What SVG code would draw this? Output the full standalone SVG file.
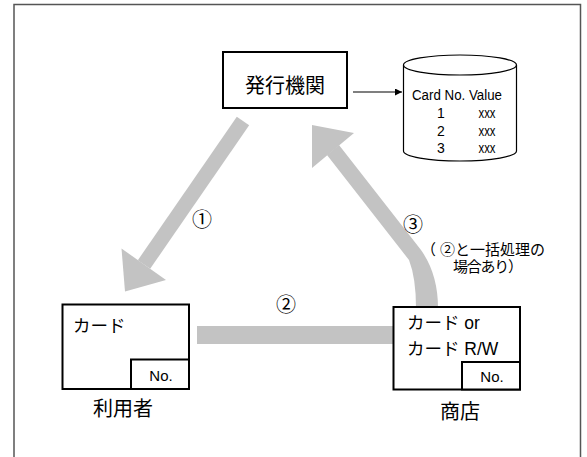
<svg xmlns="http://www.w3.org/2000/svg" width="587" height="457" viewBox="0 0 587 457">
<defs>
<style>
text{font-family:"Liberation Sans","Noto Sans CJK JP",sans-serif;fill:#000}
.box{fill:#fff;stroke:#000;stroke-width:2}
.gray{fill:#c3c3c3;stroke:none}
.big{font-size:20px}
.mid{font-size:17.5px}
.sm{font-size:15px}
.no{font-size:15px}
.cyl{font-size:14px}
.num{font-size:20px;font-family:"Noto Sans CJK JP","Liberation Sans",sans-serif}
</style>
<marker id="ah" viewBox="0 0 10 10" refX="10" refY="5" markerWidth="9" markerHeight="7" markerUnits="userSpaceOnUse" orient="auto">
<path d="M0 0 L10 5 L0 10 Z" fill="#000"/>
</marker>
</defs>
<rect width="587" height="457" fill="#fff"/>
<path d="M14 457 V4.5 H580.5 V457" fill="none" stroke="#555" stroke-width="1.5"/>

<g id="connectors">
<g id="arrow1">
<line x1="243" y1="121" x2="144" y2="264.5" stroke="#c3c3c3" stroke-width="15"/>
<polygon class="gray" points="125,291.5 121.5,248.5 166,280"/>
</g>
<g id="arrow2">
<rect class="gray" x="197" y="326" width="197" height="18"/>
</g>
<g id="arrow3">
<path class="gray" d="M339 145 L421 250 Q438 274 438 308 L416 308 Q416 278 409 260 L327 155 Z"/>
<polygon class="gray" points="312,125 354,133 312,168"/>
</g>
<line x1="353" y1="92" x2="402" y2="92" stroke="#000" stroke-width="1.2" marker-end="url(#ah)"/>
<text class="num" x="202" y="227" text-anchor="middle">①</text>
<text class="num" x="286" y="312" text-anchor="middle">②</text>
<text class="num" x="413" y="232" text-anchor="middle">③</text>
<text class="sm" x="421" y="254.5" textLength="124">（ ②と一括処理の</text>
<text class="sm" x="453" y="272" textLength="70">場合あり）</text>
</g>

<g id="issuer">
<rect class="box" x="223" y="52" width="124" height="56"/>
<text class="big" x="285" y="93" text-anchor="middle">発行機関</text>
</g>

<g id="database">
<path d="M403.5 65 A56.5 10 0 0 1 516.5 65 V151 A56.5 10 0 0 1 403.5 151 Z" fill="#fff" stroke="#000" stroke-width="1.2"/>
<path d="M403.5 65 A56.5 10 0 0 0 516.5 65" fill="none" stroke="#000" stroke-width="1.2"/>
<text class="cyl" x="457" y="100" text-anchor="middle" textLength="90" lengthAdjust="spacingAndGlyphs">Card No. Value</text>
<text class="cyl" x="441" y="118" text-anchor="middle">1</text>
<text class="cyl" x="487" y="118" text-anchor="middle" textLength="17" lengthAdjust="spacingAndGlyphs">xxx</text>
<text class="cyl" x="441" y="135.5" text-anchor="middle">2</text>
<text class="cyl" x="487" y="135.5" text-anchor="middle" textLength="17" lengthAdjust="spacingAndGlyphs">xxx</text>
<text class="cyl" x="441" y="153" text-anchor="middle">3</text>
<text class="cyl" x="487" y="153" text-anchor="middle" textLength="17" lengthAdjust="spacingAndGlyphs">xxx</text>
</g>

<g id="user">
<rect class="box" x="62.5" y="304.5" width="126.5" height="84.5"/>
<rect class="box" x="131" y="359.5" width="58" height="29.5"/>
<text class="mid" x="73" y="332">カード</text>
<text class="no" x="161" y="381" text-anchor="middle">No.</text>
<text class="big" x="123" y="416" text-anchor="middle">利用者</text>
</g>

<g id="shop">
<rect class="box" x="393.5" y="307" width="126.5" height="82.5"/>
<rect class="box" x="462" y="362" width="58" height="27.5"/>
<text class="mid" x="407" y="329">カード or</text>
<text class="mid" x="407" y="355">カード R/W</text>
<text class="no" x="492" y="382" text-anchor="middle">No.</text>
<text class="big" x="460" y="419" text-anchor="middle">商店</text>
</g>
</svg>
